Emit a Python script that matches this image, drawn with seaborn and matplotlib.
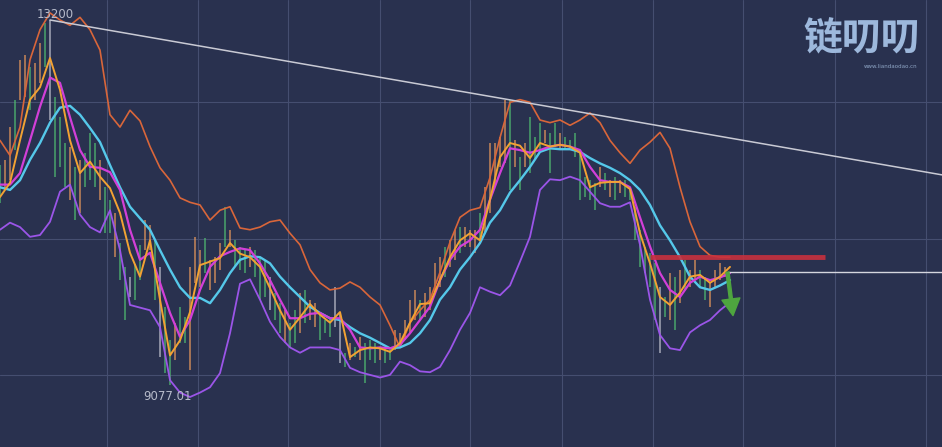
import numpy as np
import pandas as pd
import seaborn as sns
import matplotlib.pyplot as plt

# candle highs / lows (one bar every 5 px in the original screenshot)
highs = [11560, 11620, 11990, 12300, 12750, 12800, 12670, 12710, 12940, 13170,
         13200, 12330, 12100, 11810, 11770, 11540, 11620, 11700, 11920, 11810,
         11620, 11310, 11170, 11020, 10680, 10410, 10300, 10440, 10660, 10940,
         10880, 10710, 10410, 9960, 9580, 9780, 9960, 9840, 10410, 10750,
         10600, 10740, 10490, 10520, 10680, 11090, 10830, 10710, 10640, 10600,
         10640, 10600, 10520, 10490, 10300, 10120, 10000, 9920, 9780, 9920,
         10120, 10150, 10040, 10000, 9890, 9810, 9840, 10180, 9890, 9440,
         9550, 9500, 9620, 9550, 9580, 9550, 9500, 9500, 9470, 9700,
         9660, 9810, 10040, 10150, 10040, 10120, 10180, 10450, 10520, 10640,
         10710, 10830, 10860, 10860, 10830, 10830, 11020, 11310, 11810, 11810,
         11880, 12300, 12300, 11840, 11650, 11810, 12100, 11880, 12040, 11960,
         11920, 12040, 11920, 11880, 11840, 11920, 11730, 11430, 11390, 11360,
         11540, 11470, 11390, 11430, 11390, 11390, 11310, 11090, 10830, 10640,
         10570, 10450, 10180, 10070, 10340, 10300, 10380, 10490, 10380, 10490,
         10380, 10300, 10230, 10380, 10450, 10410]
lows = [11130, 11280, 11390, 11730, 12300, 12330, 12180, 12300, 12490, 12670,
        12070, 11430, 11540, 11310, 11170, 10940, 11020, 11310, 11390, 11310,
        11170, 10790, 10790, 10520, 10260, 9810, 10070, 10040, 10260, 10600,
        10600, 10040, 9390, 9210, 9077.01, 9360, 9550, 9550, 9250, 10230,
        10180, 10340, 10150, 10230, 10380, 10640, 10640, 10410, 10380, 10340,
        10410, 10300, 10040, 10070, 9920, 9810, 9660, 9550, 9500, 9550,
        9660, 9780, 9810, 9730, 9580, 9660, 9620, 9730, 9320, 9280,
        9360, 9390, 9360, 9100, 9360, 9320, 9360, 9320, 9360, 9470,
        9500, 9580, 9660, 9810, 9810, 9840, 9920, 10120, 10180, 10300,
        10410, 10490, 10570, 10640, 10640, 10570, 10710, 10790, 11020, 11310,
        11540, 11580, 11280, 11540, 11280, 11540, 11470, 11620, 11700, 11810,
        11470, 11770, 11730, 11730, 11730, 11650, 11170, 11200, 11170, 11050,
        11310, 11280, 11200, 11170, 11250, 11200, 11170, 10710, 10410, 10340,
        10180, 9810, 9440, 9840, 9810, 9700, 10000, 10150, 10180, 10260,
        10180, 10040, 9960, 10180, 10260, 10300]
candle_kind = list("goog" "oogoog" "w"
                   "gggogogggoggoggwggo"
                   "ogwggoggoo"
                   "ogooogogggogggwggogg"
                   "ogoogggwwgogogggoggo"
                   "oooogoooogoogooogooo"
                   "oogogogggoggoggggggg"
                   "ogogogggggggwgogogooggoooo")

# indicator lines, sampled every second bar
ma5 = [11200, 11360, 11840, 12300, 12440, 12770, 12410, 11840, 11470, 11600,
       11430, 11300, 11020, 10570, 10300, 10710, 10040, 9410, 9580, 9900,
       10430, 10470, 10510, 10680, 10560, 10520, 10410, 10170, 9920, 9700,
       9840, 9990, 9870, 9780, 9900, 9390, 9470, 9500, 9490, 9450,
       9550, 9780, 9990, 10000, 10260, 10520, 10710, 10790, 10710, 11170,
       11650, 11810, 11780, 11640, 11810, 11770, 11790, 11770, 11700, 11310,
       11360, 11370, 11370, 11290, 10790, 10450, 10070, 9980, 10120, 10300,
       10320, 10230, 10300, 10410]
ma10 = [11340, 11340, 11470, 11840, 12220, 12550, 12490, 12100, 11730, 11540,
        11530, 11480, 11280, 10830, 10490, 10570, 10230, 9890, 9620, 9810,
        10150, 10410, 10530, 10580, 10620, 10600, 10450, 10260, 10040, 9830,
        9830, 9880, 9890, 9830, 9830, 9700, 9500, 9490, 9500, 9490,
        9530, 9660, 9810, 9960, 10260, 10490, 10640, 10710, 10830, 11170,
        11470, 11750, 11730, 11700, 11730, 11770, 11790, 11770, 11730, 11540,
        11390, 11370, 11370, 11310, 10970, 10640, 10340, 10150, 10070, 10230,
        10300, 10260, 10290, 10340]
ma30 = [11310, 11280, 11390, 11620, 11810, 12040, 12210, 12230, 12130, 11980,
        11820, 11560, 11310, 11090, 10960, 10830, 10600, 10380, 10180, 10060,
        10060, 10000, 10150, 10340, 10490, 10530, 10520, 10450, 10300, 10180,
        10070, 9960, 9890, 9830, 9810, 9730, 9660, 9610, 9550, 9490,
        9500, 9550, 9660, 9810, 10040, 10180, 10380, 10520, 10680, 10910,
        11050, 11250, 11390, 11540, 11710, 11750, 11740, 11740, 11710, 11640,
        11580, 11530, 11470, 11390, 11280, 11110, 10880, 10710, 10520, 10300,
        10180, 10150, 10200, 10260]
boll_up = [11840, 11670, 11990, 12750, 13090, 13280, 13200, 13140, 13230, 13090,
           12860, 12130, 11990, 12180, 12060, 11770, 11530, 11390, 11190, 11140,
           11110, 10940, 11050, 11090, 10850, 10830, 10860, 10920, 10940, 10790,
           10660, 10380, 10230, 10150, 10170, 10240, 10180, 10070, 9980, 9750,
           9500, 9780, 9920, 10040, 10350, 10690, 10970, 11050, 11080, 11420,
           11870, 12270, 12300, 12270, 12070, 12040, 12070, 12010, 12070, 12150,
           12040, 11840, 11700, 11580, 11730, 11820, 11930, 11750, 11310, 10920,
           10640, 10540, 10520, 10520]
boll_low = [10830, 10910, 10860, 10750, 10770, 10920, 11260, 11340, 11000, 10860,
            10800, 11050, 10600, 9980, 9950, 9920, 9730, 9130, 8990, 8940,
            8990, 9050, 9210, 9660, 10220, 10270, 10040, 9790, 9620, 9500,
            9440, 9500, 9500, 9500, 9470, 9270, 9220, 9190, 9160, 9190,
            9340, 9300, 9230, 9220, 9280, 9470, 9700, 9890, 10180, 10130,
            10090, 10200, 10470, 10750, 11280, 11400, 11390, 11430, 11390, 11260,
            11130, 11090, 11090, 11140, 10660, 10040, 9640, 9490, 9470, 9670,
            9750, 9810, 9920, 10010]

# drawn annotations on the chart
trend_line = ([10, 188.4], [13200, 11450])
resist_level, resist_span = 10520, (130, 165)
base_level, base_start = 10350, 145.4
arrow_from, arrow_to = (145.5, 10350), (146.6, 9860)

BG = "#29314f"
sns.set_theme(style="darkgrid", rc={"axes.facecolor": BG, "figure.facecolor": BG,
                                    "grid.color": "#454e70", "grid.linewidth": 0.8})
plt.rcParams["font.family"] = ["DejaVu Sans", "Noto Sans CJK SC"]

fig = plt.figure(figsize=(9.42, 4.47), dpi=100)
ax = fig.add_axes([0, 0, 1, 1])

bars = np.arange(len(highs))
kind_colour = {"g": "#4fb870", "o": "#e3955a", "w": "#b9bcc8"}
ax.vlines(bars, lows, highs, colors=[kind_colour[k] for k in candle_kind],
          linewidth=1.1, alpha=0.85, zorder=2)

names = ["ma5", "ma10", "ma30", "up", "low"]
t = np.arange(0, 2 * len(ma5), 2)
lines = pd.DataFrame({"t": np.tile(t, len(names)),
                      "price": ma5 + ma10 + ma30 + boll_up + boll_low,
                      "name": np.repeat(names, len(t))})
palette = {"ma5": "#f2a233", "ma10": "#d23fd8", "ma30": "#55c8ea",
           "up": "#d9663a", "low": "#9b55e8"}
sizes = {"ma5": 1.4, "ma10": 1.6, "ma30": 1.7, "up": 1.2, "low": 1.3}
for name in ["up", "low", "ma30", "ma10", "ma5"]:
    sns.lineplot(data=lines[lines["name"] == name], x="t", y="price", ax=ax,
                 color=palette[name], linewidth=sizes[name], zorder=3)

ax.plot(*trend_line, color="#c9cad4", linewidth=1.1, zorder=4)
ax.hlines(resist_level, *resist_span, color="#c8303e", linewidth=3.5, alpha=0.9, zorder=4)
ax.hlines(base_level, base_start, 188.4, color="#d5d6de", linewidth=1.0, zorder=4)
ax.annotate("", xy=arrow_to, xytext=arrow_from,
            arrowprops=dict(width=2.2, headwidth=13, headlength=12, color="#4ea53f",
                            shrink=0), zorder=5)

hi = int(np.argmax(highs))
lo = int(np.argmin(lows))
ax.annotate(f"{highs[hi]:g}", (bars[hi], highs[hi]), xytext=(5, 6),
            textcoords="offset pixels", ha="center", va="center",
            color="#b7bbca", fontsize=8.5)
ax.annotate(f"{lows[lo]:.2f}", (bars[lo], lows[lo]), xytext=(-2, -12),
            textcoords="offset pixels", ha="center", va="center",
            color="#b7bbca", fontsize=8.5)

# watermark
fig.text(0.915, 0.912, "链叨叨", family=["Noto Sans CJK SC", "DejaVu Sans"],
         fontsize=28, weight="bold", color="#9db8dc", ha="center", va="center")
fig.text(0.945, 0.852, "www.liandaodao.cn", fontsize=4, color="#8fa6c6",
         ha="center", va="center")

ax.set_xlim(0, 188.4)
ax.set_ylim(8375, 13426)
ax.set_xticks([21.4, 39.6, 57.6, 76, 94, 112.4, 130.6, 148.6, 167, 185.2])
ax.set_yticks([12270, 10720, 9190])
ax.tick_params(length=0, labelbottom=False, labelleft=False)
ax.set_xlabel("")
ax.set_ylabel("")
for s in ax.spines.values():
    s.set_visible(False)

fig.savefig("out.png", dpi=100, facecolor=BG)
